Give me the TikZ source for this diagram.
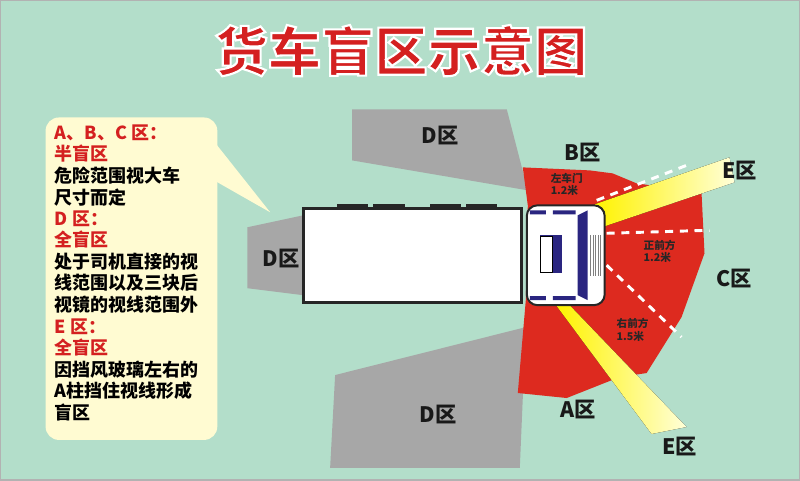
\documentclass[tikz,border=0pt]{standalone}
\usepackage{fontspec}
\setmainfont{Noto Sans CJK SC}
\newfontfamily\cjk{Noto Sans CJK SC}
\usetikzlibrary{shapes.geometric}
\definecolor{bg}{HTML}{B3DECA}
\definecolor{zred}{HTML}{DD2A1F}
\definecolor{zgray}{HTML}{A7A7A7}
\definecolor{navy}{HTML}{2A2580}
\definecolor{boxy}{HTML}{FFFBD2}
\definecolor{tred}{HTML}{D42020}
\tikzset{
 zone/.style={font=\cjk\bfseries\fontsize{16}{16}\selectfont,text=black!90},
 small/.style={font=\cjk\bfseries\fontsize{8}{9.5}\selectfont,align=left,text=black!85},
 dash line/.style={white,line width=2.2pt,dash pattern=on 6pt off 5pt},
 beam/.style={left color=yellow!90!orange,right color=yellow!15,draw=none},
 para/.style={font=\cjk\bfseries\fontsize{13.5}{16.2}\selectfont,anchor=north west,align=left,inner sep=0pt}
}
\begin{document}
\begin{tikzpicture}[x=0.75pt,y=-0.75pt]
\path[use as bounding box,fill=bg,draw=gray!60,line width=1pt] (0,0) rectangle (800,480);
% title
\node (title) [font=\cjk\bfseries\fontsize{40}{40}\selectfont,text=tred] at (401,50) {\special{pdf:literal direct 2 Tr 1.6 w 1 1 1 RG}货车盲区示意图\special{pdf:literal direct 0 Tr}};
% info box
\fill[boxy] (205,130) -- (270,212) -- (205,175) -- cycle;
\fill[boxy,rounded corners=10pt] (45,117) rectangle (217,440);
\node (info) [para] at (54,124) {\textcolor{tred}{A、B、C 区：}\\\textcolor{tred}{半盲区}\\危险范围视大车\\尺寸而定};
\node (info2) [para] at (54,210) {\textcolor{tred}{D 区：}\\\textcolor{tred}{全盲区}\\处于司机直接的视\\线范围以及三块后\\视镜的视线范围外};
\node (info3) [para] at (54,318) {\textcolor{tred}{E 区：}\\\textcolor{tred}{全盲区}\\因挡风玻璃左右的\\A柱挡住视线形成\\盲区};
% gray zones
\fill[zgray] (352,109) -- (507,109) -- (528,190) -- (352,160) -- cycle;
\fill[zgray] (335,375) -- (526,327) -- (520,468) -- (330,468) -- cycle;
\fill[zgray] (247,227) -- (303,215) -- (303,295) -- (247,288) -- cycle;
% red zone
\fill[zred] (523,167) -- (590,170) -- (613,173) -- (637,183) -- (702,192) -- (705,253) -- (682,317) -- (647,373) -- (620,377) -- (567,398) -- (518,393) -- (526,300) -- (528,205) -- cycle;
% beams
\fill[beam] (595,204) -- (730,157) -- (735,182) -- (605,226) -- cycle;
\fill[beam] (557,306) -- (567,302) -- (687,427) -- (652,434) -- cycle;
% dashed lines
\draw[dash line] (597,200) -- (692,163);
\draw[dash line] (607,233) -- (710,230);
\draw[dash line] (607,265) -- (682,337);
% trailer
\foreach \a/\b in {337/368,373/405,430/461,466/497} \fill[black!85] (\a,204) rectangle (\b,209);
\draw[fill=white,draw=black!85,line width=2.2pt] (303,208) rectangle (522,302);
% cab
\draw[fill=white,draw=black!85,line width=1.5pt,rounded corners=8pt] (527,205) rectangle (605,305);
\fill[navy] (530,210) rectangle (546,214) (553,210) rectangle (576,214);
\fill[navy] (530,296) rectangle (546,300) (553,296) rectangle (576,300);
\fill[navy] (578,215) -- (588,210) -- (588,300) -- (578,295) -- cycle;
\foreach \x in {591,593.5,...,602} \draw[gray,line width=0.5pt] (\x,235) -- (\x,276);
\fill[navy] (540,235) rectangle (562,273);
\draw[fill=white,draw=black,line width=0.8pt] (541,236) rectangle (553,272);
% labels
\node (d1) [zone] at (440,135) {D区};
\node (d2) [zone] at (281,258) {D区};
\node (d3) [zone] at (438,415) {D区};
\node (b) [zone] at (583,152) {B区};
\node (c) [zone] at (735,278) {C区};
\node (a) [zone] at (578,410) {A区};
\node (e1) [zone] at (740,170) {E区};
\node (e2) [zone] at (680,447) {E区};
\node (l1) [small] at (567,184) {左车门\\1.2米};
\node (l2) [small] at (660,251) {正前方\\1.2米};
\node (l3) [small] at (633,330) {右前方\\1.5米};
\end{tikzpicture}
\end{document}
